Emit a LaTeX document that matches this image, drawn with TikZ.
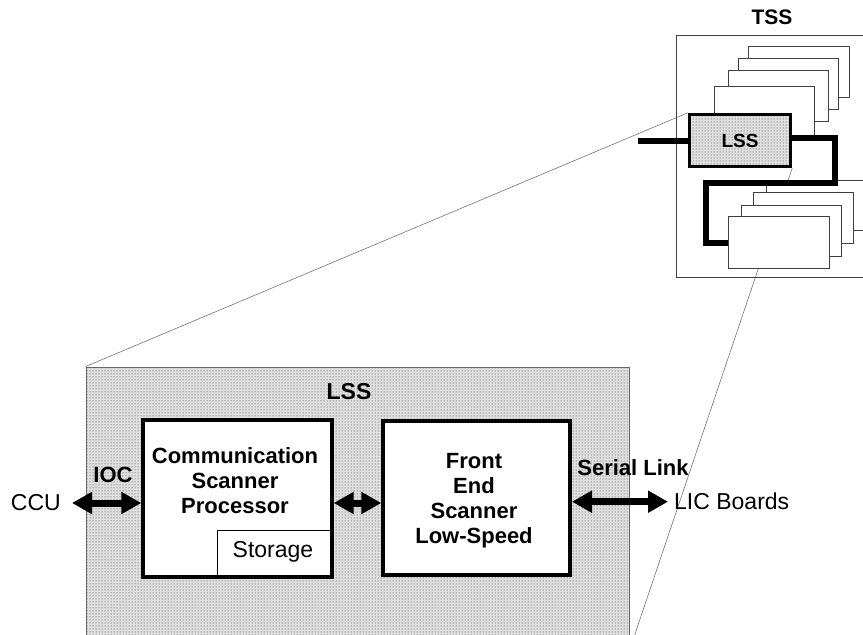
\documentclass[tikz,border=0pt]{standalone}
\usepackage{fontspec}
\setmainfont{Liberation Sans}
\usetikzlibrary{arrows.meta,patterns,fit,backgrounds}
\begin{document}
\begin{tikzpicture}[x=1pt,y=-1pt,
  thinbox/.style={draw=black!75,line width=0.9pt,fill=white,inner sep=0pt},
  thickbox/.style={draw=black,line width=4pt,fill=white,inner sep=0pt},
  dotbox/.style={draw=black!60,line width=0.9pt,inner sep=0pt,preaction={fill=black!12},pattern=dots,pattern color=black!80},
  smalldot/.style={draw=black,line width=3pt,inner sep=0pt,preaction={fill=black!12},pattern=dots,pattern color=black!80},
  wire/.style={draw=black,line width=6pt,line join=miter},
  zoomline/.style={draw=black!55,line width=0.6pt},
  dbl/.style={line width=7pt,{Triangle[length=20pt,width=21pt]}-{Triangle[length=20pt,width=21pt]}},
  lbl/.style={font=\fontsize{22}{25}\selectfont\bfseries,inner sep=0pt,align=center},
  plain/.style={font=\fontsize{23}{26}\selectfont,inner sep=0pt}]
\useasboundingbox (0,0) rectangle (863,635);
\begin{scope}
\clip (0,0) rectangle (863,635);
% TSS frame
\node[draw=black!75,line width=0.9pt,inner sep=0pt,fit={(676.7,35) (900,277.7)}] (tss) {};
\node[lbl,font=\fontsize{21}{25}\selectfont\bfseries] (tsslabel) at (772,17) {TSS};
% upper stack
\node[thinbox,fit={(748.3,46.7) (849.3,97.7)}] (bD) {};
\node[thinbox,fit={(738.3,58.3) (838.3,109.3)}] (bC) {};
\node[thinbox,fit={(728.3,70.7) (828.3,121.7)}] (bB) {};
\node[thinbox,fit={(714,86) (814.3,137)}] (bA) {};
% lower stack
\node[thinbox,fit={(766.7,180) (900,230.7)}] (bH) {};
\node[thinbox,fit={(753.3,192.7) (853.3,243.3)}] (bG) {};
\node[thinbox,fit={(741.7,205) (841.7,256)}] (bF) {};
\node[thinbox,fit={(728.3,216.7) (829.3,268.3)}] (bE) {};
% small LSS
\node[smalldot,fit={(689.3,114.3) (790.7,166.7)}] (lsss) {};
\node[lbl,font=\fontsize{19}{22}\selectfont\bfseries] (lssslabel) at (lsss.center) {LSS};
% wires
\coordinate (wireend) at (637.7,140.5);
\draw[wire] (lsss.west) -- (wireend);
\draw[wire] (790.7,137.7) -- (835,137.7) -- (835,182.7) -- (706,182.7) -- (706,242.5) -- (bE.west);
% big LSS
\node[dotbox,fit={(86,367) (629,650)}] (biglss) {};
\node[lbl,font=\fontsize{23}{25}\selectfont\bfseries] (biglsslabel) at (349,392) {LSS};
% Communication Scanner Processor
\node[thickbox,fit={(143.3,420) (331.7,577.3)}] (csp) {};
\node[inner sep=0pt,fit={(217.7,530.7) (331.7,577.3)}] (stor) {};
\draw[line width=1.3pt] (stor.south west) -- (stor.north west) -- (stor.north east);
\node[lbl] (csptext) at (235,481) {Communication\\Scanner\\Processor};
\node[plain] (stortext) at (273,552) {Storage};
% Front End Scanner
\node[thickbox,fit={(383.3,421) (570,575)}] (fes) {};
\node[lbl] (festext) at (474,500.5) {Front\\End\\Scanner\\Low-Speed};
% outside labels
\node[plain,anchor=east] (ccu) at (61,503) {CCU};
\node[plain,anchor=west] (lic) at (674,501.7) {LIC Boards};
\node[lbl] (ioc) at (113,475) {IOC};
\node[lbl] (serial) at (633,468) {Serial Link};
% arrows
\draw[dbl] ([xshift=11pt]ccu.east) -- (ccu.east -| csp.west);
\draw[dbl] (csp.east |- ccu.east) -- (fes.west |- ccu.east);
\draw[dbl] (fes.east |- lic.west) -- ([xshift=-6pt]lic.west);
\end{scope}
% zoom lines
\begin{scope}[on background layer]
\draw[zoomline] (biglss.north west) -- (lsss.north west);
\draw[zoomline] (lsss.south east) -- (biglss.south east);
\end{scope}
\end{tikzpicture}
\end{document}
